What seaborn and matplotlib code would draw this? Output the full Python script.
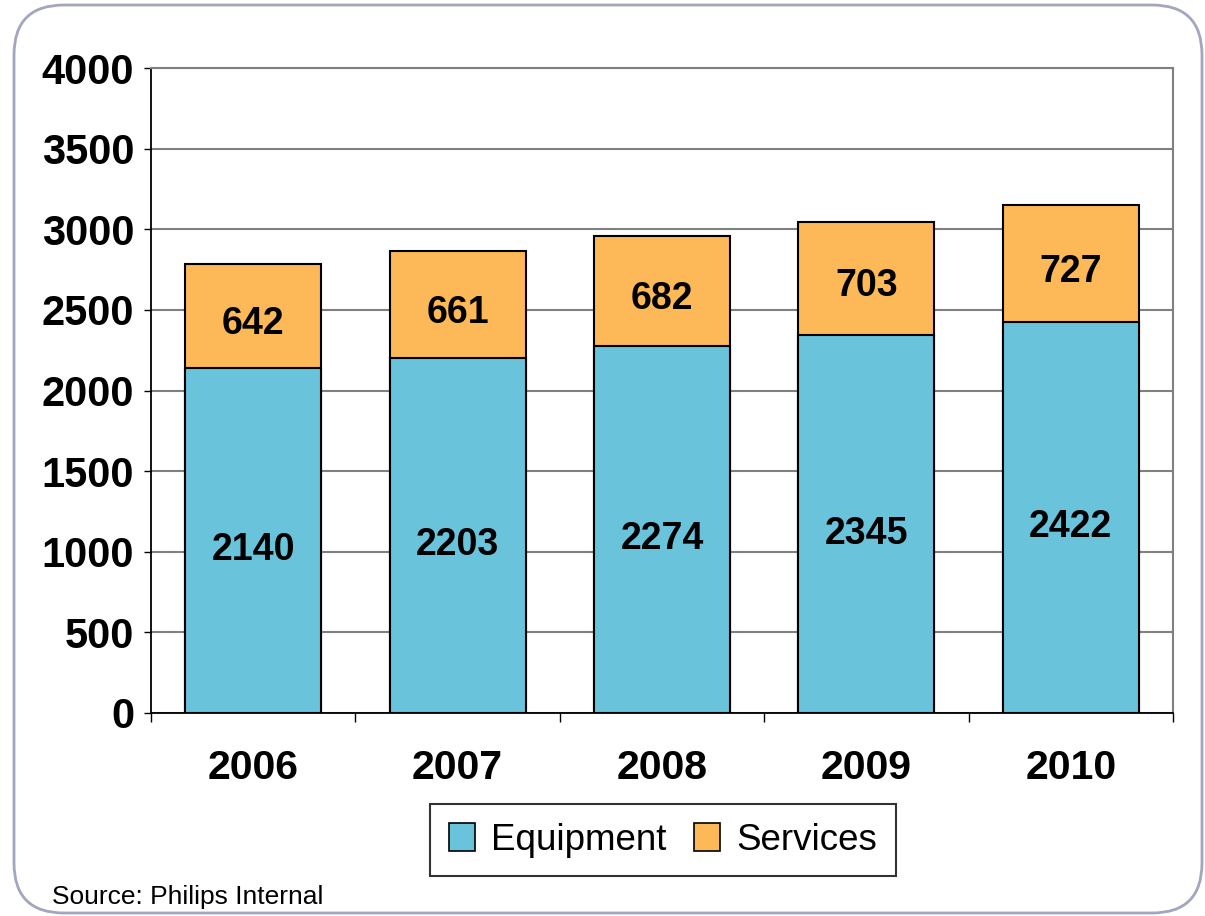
import numpy as np
import pandas as pd
import seaborn as sns
import matplotlib.pyplot as plt

from matplotlib.patches import Patch, FancyBboxPatch

# =============================================================================
# Data
# =============================================================================

years = ["2006", "2007", "2008", "2009", "2010"]
equipment = [2140, 2203, 2274, 2345, 2422]
services = [642, 661, 682, 703, 727]

y_ticks = [0, 500, 1000, 1500, 2000, 2500, 3000, 3500, 4000]
source_text = "Source: Philips Internal"

df = pd.DataFrame({"Year": years, "Equipment": equipment, "Services": services})
df["Total"] = df["Equipment"] + df["Services"]

color_equip = "#69C3DB"
color_serv = "#FDB857"

# =============================================================================
# Plot
# =============================================================================

sns.set_style("white")
plt.rcParams["font.family"] = ["Liberation Sans", "DejaVu Sans"]
plt.rcParams["text.color"] = "black"
plt.rcParams["xtick.color"] = "black"
plt.rcParams["ytick.color"] = "black"
plt.rcParams["xtick.labelcolor"] = "black"
plt.rcParams["ytick.labelcolor"] = "black"

W, H = 1205, 916
fig = plt.figure(figsize=(W / 100, H / 100), dpi=100)

# rounded frame around the slide
bg = fig.add_axes([0, 0, 1, 1])
bg.set_xlim(0, W)
bg.set_ylim(H, 0)
bg.axis("off")
bg.add_patch(
    FancyBboxPatch(
        (14 + 50, 5 + 50), 1188 - 100, 908 - 100,
        boxstyle="round,pad=50",
        facecolor="none",
        edgecolor="#A2A6BE",
        linewidth=2
    )
)

ax = fig.add_axes([151 / W, 1 - 713 / H, (1173 - 151) / W, (713 - 68) / H])
ax.set_facecolor("none")

sns.barplot(
    data=df, x="Year", y="Total", order=years,
    color=color_serv, width=0.665, edgecolor="black", linewidth=1.5,
    saturation=1, ax=ax, zorder=2
)
sns.barplot(
    data=df, x="Year", y="Equipment", order=years,
    color=color_equip, width=0.665, edgecolor="black", linewidth=1.5,
    saturation=1, ax=ax, zorder=3
)

for i, row in df.iterrows():
    ax.text(i, row["Equipment"] / 2 - 60, f"{row['Equipment']}",
            ha="center", va="center", fontsize=27, fontweight="bold", zorder=5)
    ax.text(i, row["Equipment"] + row["Services"] / 2 - 50, f"{row['Services']}",
            ha="center", va="center", fontsize=27, fontweight="bold", zorder=5)

ax.set_xlim(-0.5, 4.5)
ax.set_ylim(0, 4000)
ax.set_yticks(y_ticks)
ax.set_xlabel("")
ax.set_ylabel("")

ax.grid(axis="y", color="#808080", linewidth=1.5, zorder=0)
ax.set_axisbelow(True)

for side in ["left", "bottom"]:
    ax.spines[side].set_color("black")
    ax.spines[side].set_linewidth(1.3)
for side in ["top", "right"]:
    ax.spines[side].set_color("#808080")
    ax.spines[side].set_linewidth(1.5)
    ax.spines[side].set_visible(True)

ax.set_xticks(np.arange(-0.5, 5, 1), minor=True)
ax.tick_params(axis="x", which="major", bottom=True, length=0, pad=26, labelsize=29.5)
ax.tick_params(axis="x", which="minor", bottom=True, length=6.5, width=1,
               color="black", direction="out")
ax.tick_params(axis="y", which="major", left=True, length=5, width=1, color="black",
               direction="out", pad=7, labelsize=30)
for lab in ax.get_xticklabels() + ax.get_yticklabels():
    lab.set_fontweight("bold")

handles = [
    Patch(facecolor=color_equip, edgecolor="black", linewidth=1.2, label="Equipment"),
    Patch(facecolor=color_serv, edgecolor="black", linewidth=1.2, label="Services"),
]
leg = fig.legend(
    handles=handles, ncol=2, loc="center",
    bbox_to_anchor=(663 / W, 1 - 840 / H),
    fontsize=26.5, frameon=True, fancybox=False, edgecolor="black",
    handlelength=0.7, handleheight=0.8, handletextpad=0.45,
    columnspacing=0.75, borderpad=0.5
)
leg.get_frame().set_linewidth(1.5)
for t in leg.get_texts():
    t.set_color("black")

fig.text(52 / W, 1 - 897 / H, source_text, fontsize=19, ha="left", va="center", color="black")

plt.savefig("out.png", dpi=100)
